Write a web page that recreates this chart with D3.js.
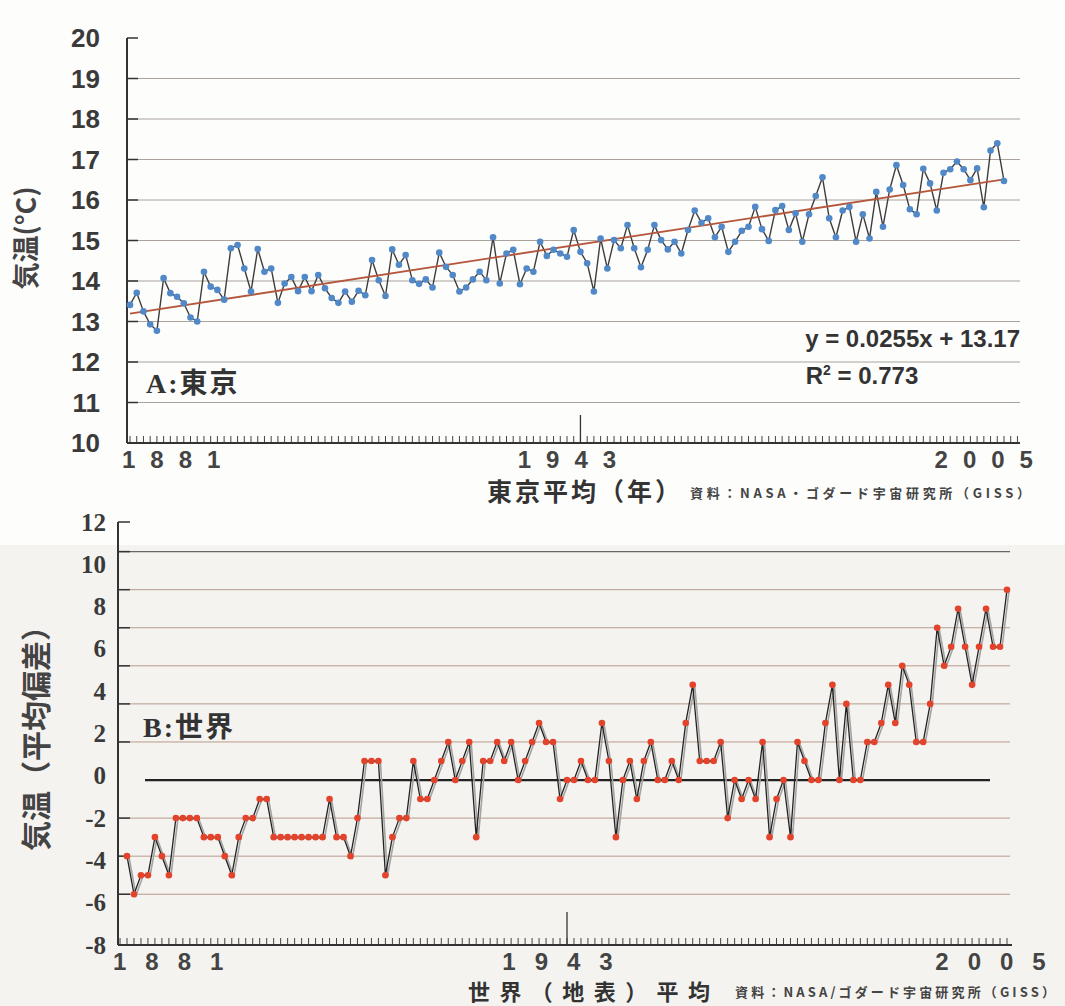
<!DOCTYPE html>
<html>
<head>
<meta charset="utf-8">
<script src="https://cdn.jsdelivr.net/npm/d3@7"></script>
<style>
  body { margin: 0; background: #fff; }
  svg { display: block; }
</style>
</head>
<body>
<svg></svg>
<script>
// Tokyo annual mean temperature (°C), one value per year
const tokyoStartYear = 1876
const tokyoTemps = [
  13.41, 13.71, 13.25, 12.93, 12.77, 14.07, 13.70, 13.61, 13.45, 13.10,
  13.00, 14.23, 13.86, 13.78, 13.54, 14.81, 14.89, 14.31, 13.74, 14.79,
  14.23, 14.31, 13.46, 13.94, 14.10, 13.75, 14.10, 13.75, 14.15, 13.82,
  13.58, 13.46, 13.74, 13.49, 13.76, 13.65, 14.52, 14.02, 13.63, 14.78,
  14.40, 14.64, 14.02, 13.93, 14.04, 13.84, 14.70, 14.35, 14.15, 13.74,
  13.84, 14.04, 14.23, 14.02, 15.08, 13.94, 14.68, 14.77, 13.92, 14.31,
  14.23, 14.97, 14.62, 14.77, 14.68, 14.60, 15.26, 14.72, 14.44, 13.74,
  15.05, 14.31, 15.01, 14.81, 15.38, 14.81, 14.34, 14.77, 15.38, 15.01,
  14.78, 14.97, 14.68, 15.26, 15.74, 15.44, 15.55, 15.08, 15.34, 14.72,
  14.97, 15.24, 15.34, 15.83, 15.28, 14.99, 15.75, 15.85, 15.26, 15.67,
  14.97, 15.65, 16.10, 16.56, 15.55, 15.08, 15.74, 15.83, 14.97, 15.65,
  15.05, 16.20, 15.34, 16.26, 16.86, 16.37, 15.77, 15.65, 16.77, 16.41,
  15.74, 16.67, 16.76, 16.95, 16.76, 16.49, 16.78, 15.82, 17.22, 17.40,
  16.47
]
const trendSlope = 0.0255
const trendIntercept = 13.17
const trendR2 = 0.773

// world land-surface mean, deviation from average
const worldStartYear = 1880
const worldAnoms = [
  -3.8, -5.6, -4.7, -4.7, -2.9, -3.8, -4.7, -2.0, -2.0, -2.0,
  -2.0, -2.9, -2.9, -2.9, -3.8, -4.7, -2.9, -2.0, -2.0, -1.1,
  -1.1, -2.9, -2.9, -2.9, -2.9, -2.9, -2.9, -2.9, -2.9, -1.1,
  -2.9, -2.9, -3.8, -2.0, 0.7, 0.7, 0.7, -4.7, -2.9, -2.0,
  -2.0, 0.7, -1.1, -1.1, -0.2, 0.7, 1.6, -0.2, 0.7, 1.6,
  -2.9, 0.7, 0.7, 1.6, 0.7, 1.6, -0.2, 0.7, 1.6, 2.5,
  1.6, 1.6, -1.1, -0.2, -0.2, 0.7, -0.2, -0.2, 2.5, 0.7,
  -2.9, -0.2, 0.7, -1.1, 0.7, 1.6, -0.2, -0.2, 0.7, -0.2,
  2.5, 4.3, 0.7, 0.7, 0.7, 1.6, -2.0, -0.2, -1.1, -0.2,
  -1.1, 1.6, -2.9, -1.1, -0.2, -2.9, 1.6, 0.7, -0.2, -0.2,
  2.5, 4.3, -0.2, 3.4, -0.2, -0.2, 1.6, 1.6, 2.5, 4.3,
  2.5, 5.2, 4.3, 1.6, 1.6, 3.4, 7.0, 5.2, 6.1, 7.9,
  6.1, 4.3, 6.1, 7.9, 6.1, 6.1, 8.8
]

const yearLabels = [1881, 1943, 2005]
const tokyoTicks = d3.range(10, 21)
const worldTicks = d3.range(-8, 13, 2)
const worldGrid = [-5.6, -3.8, -2.0, 1.6, 3.4, 5.2, 7.0, 8.8, 10.6]
const worldBase = -0.2

const sans = "'Liberation Sans', Arial, sans-serif"
const serif = "'Liberation Serif', 'Times New Roman', serif"
const cjk = "'Noto Sans CJK JP', sans-serif"

const svg = d3.select('svg').attr('width', 1065).attr('height', 1006)

svg.append('rect').attr('width', 1065).attr('height', 1006).attr('fill', '#fdfdfc')
svg.append('rect').attr('y', 545).attr('width', 1065).attr('height', 461).attr('fill', '#f4f3f0')

function xAxis (g, x, left, right, y0, firstYear, lastYear, longTop, spacing, shift) {
  g.selectAll('line.comb')
    .data(d3.range(firstYear, lastYear + 1))
    .enter().append('line')
    .attr('x1', d => x(d)).attr('x2', d => x(d))
    .attr('y1', y0).attr('y2', y0 - 7)
    .attr('stroke', '#444').attr('stroke-width', 1)
  g.append('line')
    .attr('x1', x(1943)).attr('x2', x(1943))
    .attr('y1', y0).attr('y2', longTop)
    .attr('stroke', '#333').attr('stroke-width', 1.3)
  g.append('line')
    .attr('x1', left).attr('x2', right).attr('y1', y0).attr('y2', y0)
    .attr('stroke', '#333').attr('stroke-width', 2)
  g.selectAll('text.xlab')
    .data(yearLabels)
    .enter().append('text')
    .attr('x', (d, i) => i === 0 ? left - 5 : x(d) + shift)
    .attr('y', y0 + 25)
    .attr('text-anchor', (d, i) => i === 0 ? 'start' : 'middle')
    .attr('letter-spacing', spacing)
    .attr('font-family', sans).attr('font-weight', 'bold').attr('font-size', 24)
    .attr('fill', '#444')
    .text(d => d)
}

// ---------- A: Tokyo ----------
let xT = d3.scaleLinear().domain([tokyoStartYear, tokyoStartYear + tokyoTemps.length - 1]).range([130, 1004])
let yT = d3.scaleLinear().domain([10, 20]).range([443, 38])
let gT = svg.append('g')

gT.selectAll('line.grid')
  .data(tokyoTicks.filter(t => t > 10 && t < 20))
  .enter().append('line')
  .attr('x1', 127).attr('x2', 1020)
  .attr('y1', d => yT(d)).attr('y2', d => yT(d))
  .attr('stroke', '#aaa29b').attr('stroke-width', 1)

gT.selectAll('line.tick')
  .data(tokyoTicks)
  .enter().append('line')
  .attr('x1', 127).attr('x2', 138)
  .attr('y1', d => yT(d)).attr('y2', d => yT(d))
  .attr('stroke', '#333').attr('stroke-width', 1.5)

gT.selectAll('text.ylab')
  .data(tokyoTicks)
  .enter().append('text')
  .attr('x', 100).attr('y', d => yT(d))
  .attr('text-anchor', 'end').attr('dominant-baseline', 'central')
  .attr('font-family', sans).attr('font-weight', 'bold').attr('font-size', 26)
  .attr('fill', '#3a3a3a')
  .text(d => d)

xAxis(gT, xT, 127, 1020, 443, tokyoStartYear, 2008, 415, 15, -6)

gT.append('line')
  .attr('x1', 127).attr('x2', 127).attr('y1', 38).attr('y2', 443)
  .attr('stroke', '#333').attr('stroke-width', 2)

let lineT = d3.line()
  .x((d, i) => xT(tokyoStartYear + i))
  .y(d => yT(d))

gT.append('path')
  .attr('d', lineT(tokyoTemps))
  .attr('fill', 'none').attr('stroke', '#3d3d3d').attr('stroke-width', 1.4)
  .attr('stroke-linejoin', 'round')

let lastT = tokyoTemps.length - 1
gT.append('line')
  .attr('x1', xT(tokyoStartYear)).attr('x2', xT(tokyoStartYear + lastT))
  .attr('y1', yT(trendIntercept + trendSlope * 1))
  .attr('y2', yT(trendIntercept + trendSlope * (lastT + 1)))
  .attr('stroke', '#b5573c').attr('stroke-width', 1.8)

gT.selectAll('circle')
  .data(tokyoTemps)
  .enter().append('circle')
  .attr('cx', (d, i) => xT(tokyoStartYear + i))
  .attr('cy', d => yT(d))
  .attr('r', 3.3)
  .attr('fill', '#5088c8')

gT.append('text')
  .attr('x', 1020).attr('y', 347).attr('text-anchor', 'end')
  .attr('font-family', sans).attr('font-weight', 'bold').attr('font-size', 24).attr('fill', '#333')
  .text('y = ' + trendSlope + 'x + ' + trendIntercept)

let r2 = gT.append('text')
  .attr('x', 862).attr('y', 384).attr('text-anchor', 'middle')
  .attr('font-family', sans).attr('font-weight', 'bold').attr('font-size', 24).attr('fill', '#333')
r2.append('tspan').text('R')
r2.append('tspan').attr('dy', -9).attr('font-size', 14).text('2')
r2.append('tspan').attr('dy', 9).text(' = ' + trendR2)

let tagA = gT.append('text').attr('x', 146).attr('y', 393).attr('font-size', 28).attr('fill', '#333')
  .attr('letter-spacing', 2)
tagA.append('tspan').attr('font-family', serif).attr('font-weight', 'bold').text('A:')
tagA.append('tspan').attr('font-family', cjk).attr('font-weight', 'bold').text('東京')

gT.append('text')
  .attr('transform', 'translate(36,238) rotate(-90)')
  .attr('text-anchor', 'middle')
  .attr('font-family', cjk).attr('font-weight', 'bold').attr('font-size', 27).attr('fill', '#444')
  .text('気温(°C)')

gT.append('text')
  .attr('x', 487).attr('y', 501)
  .attr('font-family', cjk).attr('font-weight', 'bold').attr('font-size', 25).attr('fill', '#333')
  .attr('textLength', 193)
  .text('東京平均（年）')

gT.append('text')
  .attr('x', 690).attr('y', 498)
  .attr('font-family', cjk).attr('font-weight', 'bold').attr('font-size', 13).attr('fill', '#444')
  .attr('textLength', 340).attr('lengthAdjust', 'spacing')
  .text('資料：NASA・ゴダード宇宙研究所（GISS）')

// ---------- B: World ----------
let xW = d3.scaleLinear().domain([worldStartYear, worldStartYear + worldAnoms.length - 1]).range([127, 1007])
let yW = d3.scaleLinear().domain([-8, 12]).range([945, 522])
let gW = svg.append('g')

gW.selectAll('line.grid')
  .data(worldGrid)
  .enter().append('line')
  .attr('x1', 118).attr('x2', 1010)
  .attr('y1', d => yW(d)).attr('y2', d => yW(d))
  .attr('stroke', d => d > 10 ? '#666' : '#b89a8c').attr('stroke-width', d => d > 10 ? 1.3 : 1)

gW.selectAll('line.tick')
  .data(worldGrid.concat([12]))
  .enter().append('line')
  .attr('x1', 118).attr('x2', 130)
  .attr('y1', d => yW(d)).attr('y2', d => yW(d))
  .attr('stroke', '#333').attr('stroke-width', 1.5)

gW.append('line')
  .attr('x1', 145).attr('x2', 990)
  .attr('y1', yW(worldBase)).attr('y2', yW(worldBase))
  .attr('stroke', '#222').attr('stroke-width', 2.2)

gW.selectAll('text.ylab')
  .data(worldTicks)
  .enter().append('text')
  .attr('x', 106).attr('y', d => yW(d))
  .attr('text-anchor', 'end').attr('dominant-baseline', 'central')
  .attr('font-family', serif).attr('font-weight', 'bold').attr('font-size', 25)
  .attr('fill', '#3a3a3a')
  .text(d => d)

xAxis(gW, xW, 118, 1012, 945, worldStartYear - 1, 2006, 912, 19, 0)

gW.append('line')
  .attr('x1', 118).attr('x2', 118).attr('y1', 522).attr('y2', 945)
  .attr('stroke', '#333').attr('stroke-width', 2)

let lineW = d3.line()
  .x((d, i) => xW(worldStartYear + i))
  .y(d => yW(d))

gW.append('path')
  .attr('d', lineW(worldAnoms))
  .attr('transform', 'translate(2,1)')
  .attr('fill', 'none').attr('stroke', '#a3a3a3').attr('stroke-width', 1.6)
gW.append('path')
  .attr('d', lineW(worldAnoms))
  .attr('fill', 'none').attr('stroke', '#222').attr('stroke-width', 1.3)
  .attr('stroke-linejoin', 'round')

gW.selectAll('circle')
  .data(worldAnoms)
  .enter().append('circle')
  .attr('cx', (d, i) => xW(worldStartYear + i))
  .attr('cy', d => yW(d))
  .attr('r', 3.3)
  .attr('fill', '#e2432a')

let tagB = gW.append('text').attr('x', 143).attr('y', 737).attr('font-size', 28).attr('fill', '#333')
  .attr('letter-spacing', 2)
tagB.append('tspan').attr('font-family', serif).attr('font-weight', 'bold').text('B:')
tagB.append('tspan').attr('font-family', cjk).attr('font-weight', 'bold').text('世界')

gW.append('text')
  .attr('transform', 'translate(47,731) rotate(-90)')
  .attr('text-anchor', 'middle')
  .attr('font-family', cjk).attr('font-weight', 'bold').attr('font-size', 30).attr('fill', '#444')
  .text('気温（平均偏差）')

gW.append('text')
  .attr('x', 468).attr('y', 1000)
  .attr('font-family', cjk).attr('font-weight', 'bold').attr('font-size', 22).attr('fill', '#333')
  .attr('textLength', 242)
  .text('世界（地表）平均')

gW.append('text')
  .attr('x', 735).attr('y', 997)
  .attr('font-family', cjk).attr('font-weight', 'bold').attr('font-size', 13).attr('fill', '#444')
  .attr('textLength', 320).attr('lengthAdjust', 'spacing')
  .text('資料：NASA/ゴダード宇宙研究所（GISS）')
</script>
</body>
</html>
